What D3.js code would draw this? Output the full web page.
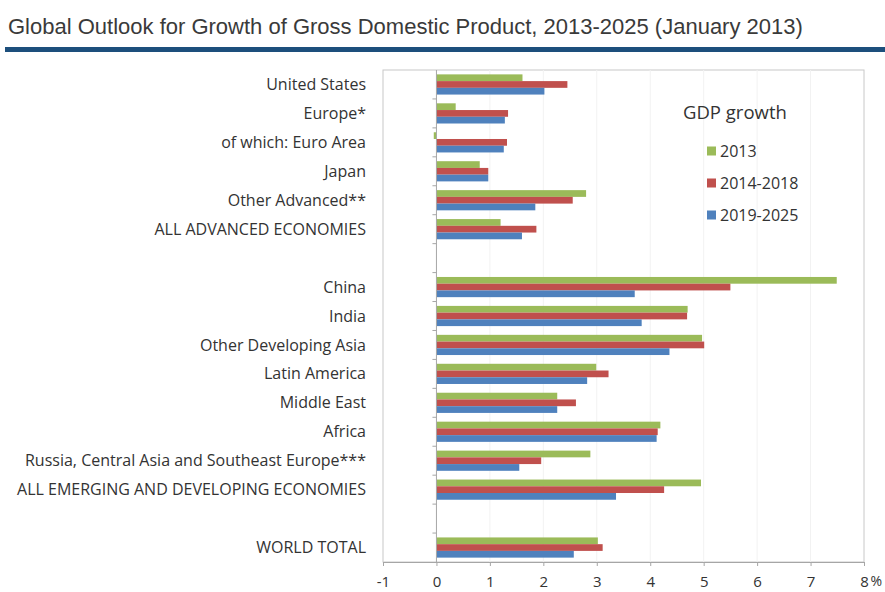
<!DOCTYPE html>
<html>
<head>
    <meta charset="UTF-8">
    <title>Global Outlook for Growth of GDP</title>
    <script src="https://d3js.org/d3.v7.min.js"></script>
    <style>
        body { margin: 0; background: #fff; }
        svg { display: block; }
    </style>
</head>
<body>
<svg id="chart" width="885" height="592"></svg>
<script>
    // 类别（gap 为分组间隔）
    const categories = [
        "United States", "Europe*", "of which: Euro Area", "Japan", "Other Advanced**",
        "ALL ADVANCED ECONOMIES", "gap1",
        "China", "India", "Other Developing Asia", "Latin America", "Middle East", "Africa",
        "Russia, Central Asia and Southeast Europe***", "ALL EMERGING AND DEVELOPING ECONOMIES", "gap2",
        "WORLD TOTAL"
    ];
    const seriesNames = ["2013", "2014-2018", "2019-2025"];
    const seriesColors = ["#9bbb59", "#c0504d", "#4f81bd"];

    const growth2013 = [1.61, 0.36, -0.05, 0.81, 2.80, 1.20, null, 7.49, 4.70, 4.97, 2.99, 2.26, 4.19, 2.88, 4.95, null, 3.02];
    const growth2014_2018 = [2.45, 1.34, 1.32, 0.97, 2.55, 1.87, null, 5.50, 4.69, 5.01, 3.22, 2.61, 4.14, 1.96, 4.26, null, 3.11];
    const growth2019_2025 = [2.02, 1.28, 1.26, 0.97, 1.85, 1.60, null, 3.71, 3.84, 4.36, 2.82, 2.26, 4.12, 1.55, 3.36, null, 2.57];
    const xTicks = [-1, 0, 1, 2, 3, 4, 5, 6, 7, 8];

    const seriesValues = [growth2013, growth2014_2018, growth2019_2025];

    const svg = d3.select("#chart");

    // 标题
    svg.append("text")
        .attr("x", 8).attr("y", 34)
        .attr("font-family", "Liberation Sans, Arial, sans-serif")
        .attr("font-size", 22)
        .attr("fill", "#3a3a3a")
        .text("Global Outlook for Growth of Gross Domestic Product, 2013-2025 (January 2013)");

    svg.append("rect")
        .attr("x", 5).attr("y", 47).attr("width", 880).attr("height", 5)
        .attr("fill", "#1d4f7c");

    const x = d3.scaleLinear().domain([-1, 8]).range([383, 864]);
    const y0 = d3.scaleBand().domain(categories).range([70, 562]);
    const y1 = d3.scaleBand().domain(seriesNames).range([0, y0.bandwidth()]).paddingOuter(0.65);

    // 绘图区边框
    svg.append("rect")
        .attr("x", x(-1)).attr("y", 70)
        .attr("width", x(8) - x(-1)).attr("height", 562 - 70)
        .attr("fill", "none").attr("stroke", "#c8c8c8");

    // 淡网格线
    svg.append("g").selectAll("line")
        .data(xTicks.filter(d => d !== -1 && d !== 0 && d !== 8))
        .join("line")
        .attr("x1", d => x(d)).attr("x2", d => x(d))
        .attr("y1", 70).attr("y2", 562)
        .attr("stroke", "#f2f2f2");

    // 柱子
    const rows = categories.map((c, i) => ({ cat: c, vals: seriesValues.map(s => s[i]) }));
    const groups = svg.append("g").selectAll("g")
        .data(rows.filter(r => r.vals[0] !== null))
        .join("g")
        .attr("transform", d => `translate(0,${y0(d.cat)})`);

    groups.selectAll("rect")
        .data(d => d.vals.map((v, j) => ({ v, s: seriesNames[j], c: seriesColors[j] })))
        .join("rect")
        .attr("x", d => x(Math.min(0, d.v)))
        .attr("width", d => Math.abs(x(d.v) - x(0)))
        .attr("y", d => y1(d.s))
        .attr("height", y1.bandwidth())
        .attr("fill", d => d.c);

    // 零轴及刻度
    svg.append("line")
        .attr("x1", x(0)).attr("x2", x(0)).attr("y1", 70).attr("y2", 562)
        .attr("stroke", "#a6a6a6");
    svg.append("g").selectAll("line")
        .data(categories.slice(1))
        .join("line")
        .attr("x1", x(0) - 4).attr("x2", x(0))
        .attr("y1", d => y0(d)).attr("y2", d => y0(d))
        .attr("stroke", "#a6a6a6");

    // x 轴
    const xAxis = svg.append("g")
        .attr("transform", "translate(0,562)")
        .call(d3.axisBottom(x).tickValues(xTicks).tickSize(4).tickFormat(d => d));
    xAxis.select(".domain").attr("stroke", "#a6a6a6");
    xAxis.selectAll(".tick line").attr("stroke", "#a6a6a6");
    xAxis.selectAll(".tick text")
        .attr("font-family", "Open Sans, sans-serif")
        .attr("font-size", 15)
        .attr("fill", "#333")
        .attr("y", 14);
    xAxis.selectAll(".tick").filter(d => d === 8)
        .append("text")
        .attr("x", 6).attr("y", 14).attr("dy", "0.71em")
        .attr("font-family", "Open Sans, sans-serif")
        .attr("font-size", 14)
        .attr("fill", "#333")
        .attr("text-anchor", "start")
        .text("%");

    // 类别标签
    svg.append("g").selectAll("text")
        .data(categories.filter(c => !c.startsWith("gap")))
        .join("text")
        .attr("x", 366)
        .attr("y", d => y0(d) + y0.bandwidth() / 2)
        .attr("dy", "0.35em")
        .attr("text-anchor", "end")
        .attr("font-family", "Open Sans, sans-serif")
        .attr("font-size", 16)
        .attr("fill", "#333")
        .text(d => d);

    // 图例
    const legend = svg.append("g");
    legend.append("text")
        .attr("x", 683).attr("y", 119)
        .attr("font-family", "Open Sans, sans-serif")
        .attr("font-size", 18.5)
        .attr("fill", "#333")
        .text("GDP growth");
    seriesNames.forEach((s, i) => {
        const ly = 151 + i * 32;
        legend.append("rect")
            .attr("x", 707).attr("y", ly - 4.5).attr("width", 9).attr("height", 9)
            .attr("fill", seriesColors[i]);
        legend.append("text")
            .attr("x", 720).attr("y", ly)
            .attr("dy", "0.35em")
            .attr("font-family", "Open Sans, sans-serif")
            .attr("font-size", 16)
            .attr("fill", "#333")
            .text(s);
    });
</script>
</body>
</html>
